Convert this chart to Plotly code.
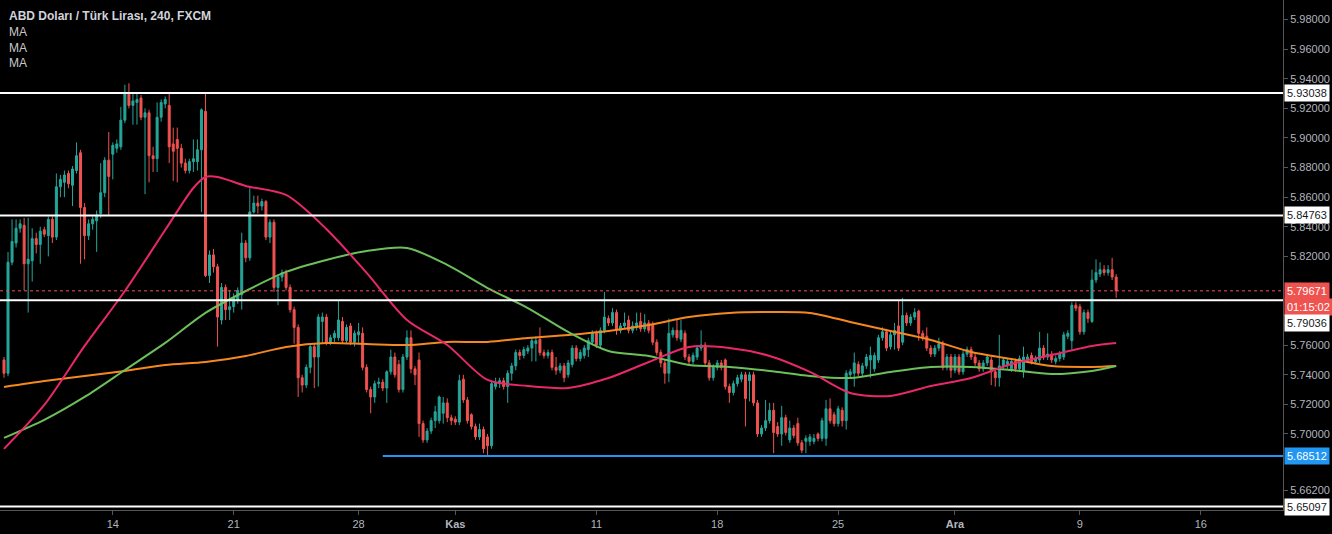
import plotly.graph_objects as go

# ---------------- data (4h candles, USD/TRY) ----------------
opens = [
 5.750, 5.741, 5.816, 5.829, 5.839, 5.841, 5.815, 5.817, 5.832, 5.828,
 5.838, 5.834, 5.845, 5.833, 5.867, 5.870, 5.876, 5.868, 5.878, 5.890,
 5.853, 5.834, 5.842, 5.844, 5.849, 5.863, 5.885, 5.889, 5.893, 5.894,
 5.912, 5.930, 5.922, 5.924, 5.927, 5.914, 5.917, 5.888, 5.886, 5.914,
 5.923, 5.922, 5.896, 5.899, 5.893, 5.883, 5.878, 5.884, 5.884, 5.892,
 5.918, 5.807, 5.821, 5.813, 5.777, 5.799, 5.784, 5.786, 5.790, 5.794,
 5.829, 5.819, 5.850, 5.856, 5.854, 5.857, 5.833, 5.843, 5.799, 5.806,
 5.809, 5.799, 5.784, 5.772, 5.738, 5.733, 5.745, 5.759, 5.752, 5.776,
 5.779, 5.762, 5.765, 5.765, 5.776, 5.763, 5.773, 5.762, 5.767, 5.768,
 5.745, 5.730, 5.725, 5.734, 5.735, 5.731, 5.742, 5.752, 5.747, 5.730,
 5.752, 5.765, 5.744, 5.750, 5.707, 5.696, 5.702, 5.709, 5.709, 5.714,
 5.721, 5.711, 5.710, 5.708, 5.737, 5.723, 5.713, 5.705, 5.698, 5.703,
 5.698, 5.692, 5.732, 5.734, 5.736, 5.732, 5.741, 5.746, 5.755, 5.753,
 5.756, 5.758, 5.761, 5.764, 5.755, 5.753, 5.755, 5.745, 5.743, 5.746,
 5.740, 5.747, 5.758, 5.751, 5.753, 5.757, 5.762, 5.768, 5.760, 5.770,
 5.778, 5.775, 5.782, 5.770, 5.773, 5.777, 5.770, 5.772, 5.776, 5.771,
 5.775, 5.774, 5.762, 5.755, 5.748, 5.741, 5.767, 5.770, 5.764, 5.768,
 5.752, 5.749, 5.752, 5.758, 5.760, 5.748, 5.738, 5.745, 5.748, 5.750,
 5.732, 5.728, 5.734, 5.737, 5.740, 5.736, 5.740, 5.721, 5.700, 5.704,
 5.709, 5.716, 5.705, 5.700, 5.711, 5.696, 5.704, 5.707, 5.694, 5.695,
 5.695, 5.695, 5.700, 5.697, 5.697, 5.717, 5.713, 5.707, 5.716, 5.709,
 5.740, 5.741, 5.747, 5.741, 5.746, 5.750, 5.744, 5.750, 5.765, 5.769,
 5.759, 5.767, 5.773, 5.762, 5.780, 5.775, 5.779, 5.783, 5.768, 5.766,
 5.758, 5.754, 5.758, 5.761, 5.745, 5.752, 5.743, 5.752, 5.742, 5.754,
 5.757, 5.752, 5.748, 5.744, 5.748, 5.750, 5.742, 5.738, 5.746, 5.746,
 5.744, 5.749, 5.744, 5.742, 5.750, 5.753, 5.749, 5.750, 5.758, 5.752,
 5.754, 5.749, 5.751, 5.752, 5.766, 5.763, 5.787, 5.786, 5.769, 5.782,
 5.776, 5.804, 5.808, 5.811, 5.809, 5.811, 5.806,
]
highs = [
 5.752, 5.823, 5.845, 5.845, 5.845, 5.846, 5.846, 5.839, 5.836, 5.840,
 5.840, 5.847, 5.847, 5.876, 5.875, 5.878, 5.878, 5.881, 5.897, 5.892,
 5.856, 5.845, 5.847, 5.851, 5.883, 5.887, 5.904, 5.897, 5.899, 5.921,
 5.936, 5.937, 5.930, 5.930, 5.929, 5.920, 5.919, 5.894, 5.924, 5.926,
 5.928, 5.931, 5.907, 5.907, 5.896, 5.886, 5.886, 5.899, 5.899, 5.920,
 5.930, 5.824, 5.825, 5.815, 5.802, 5.801, 5.797, 5.795, 5.799, 5.836,
 5.831, 5.866, 5.861, 5.861, 5.859, 5.858, 5.845, 5.845, 5.808, 5.811,
 5.811, 5.801, 5.786, 5.774, 5.740, 5.747, 5.761, 5.761, 5.781, 5.782,
 5.781, 5.767, 5.770, 5.790, 5.779, 5.774, 5.775, 5.770, 5.775, 5.772,
 5.747, 5.732, 5.736, 5.738, 5.737, 5.743, 5.757, 5.755, 5.750, 5.754,
 5.770, 5.770, 5.746, 5.755, 5.709, 5.704, 5.711, 5.719, 5.726, 5.725,
 5.724, 5.713, 5.712, 5.740, 5.740, 5.725, 5.714, 5.707, 5.707, 5.705,
 5.700, 5.736, 5.738, 5.738, 5.738, 5.743, 5.748, 5.757, 5.757, 5.759,
 5.760, 5.765, 5.766, 5.772, 5.757, 5.757, 5.757, 5.752, 5.748, 5.748,
 5.750, 5.760, 5.760, 5.757, 5.760, 5.765, 5.770, 5.770, 5.772, 5.796,
 5.780, 5.785, 5.784, 5.775, 5.782, 5.780, 5.776, 5.782, 5.782, 5.781,
 5.777, 5.776, 5.764, 5.757, 5.750, 5.778, 5.772, 5.777, 5.777, 5.770,
 5.754, 5.755, 5.760, 5.770, 5.762, 5.750, 5.747, 5.750, 5.750, 5.751,
 5.734, 5.736, 5.740, 5.742, 5.742, 5.742, 5.742, 5.723, 5.706, 5.723,
 5.721, 5.721, 5.708, 5.719, 5.713, 5.709, 5.706, 5.711, 5.696, 5.699,
 5.700, 5.700, 5.701, 5.711, 5.723, 5.724, 5.715, 5.719, 5.718, 5.743,
 5.744, 5.755, 5.749, 5.748, 5.754, 5.759, 5.755, 5.767, 5.772, 5.771,
 5.769, 5.775, 5.790, 5.792, 5.782, 5.781, 5.785, 5.784, 5.770, 5.772,
 5.760, 5.760, 5.765, 5.763, 5.754, 5.754, 5.754, 5.754, 5.756, 5.759,
 5.759, 5.754, 5.750, 5.750, 5.754, 5.752, 5.744, 5.767, 5.752, 5.751,
 5.751, 5.751, 5.753, 5.759, 5.754, 5.755, 5.753, 5.769, 5.760, 5.768,
 5.756, 5.753, 5.756, 5.769, 5.770, 5.789, 5.789, 5.788, 5.784, 5.784,
 5.811, 5.818, 5.816, 5.814, 5.814, 5.819, 5.808,
]
lows = [
 5.738, 5.739, 5.814, 5.826, 5.836, 5.797, 5.782, 5.803, 5.822, 5.815,
 5.833, 5.820, 5.829, 5.831, 5.860, 5.860, 5.866, 5.854, 5.876, 5.815,
 5.818, 5.831, 5.838, 5.823, 5.846, 5.860, 5.848, 5.872, 5.890, 5.892,
 5.910, 5.920, 5.909, 5.909, 5.912, 5.862, 5.870, 5.877, 5.877, 5.911,
 5.920, 5.883, 5.871, 5.870, 5.880, 5.876, 5.876, 5.877, 5.878, 5.850,
 5.806, 5.802, 5.809, 5.759, 5.774, 5.777, 5.777, 5.782, 5.788, 5.784,
 5.816, 5.817, 5.849, 5.849, 5.851, 5.831, 5.829, 5.796, 5.787, 5.803,
 5.797, 5.782, 5.761, 5.725, 5.728, 5.731, 5.741, 5.731, 5.732, 5.761,
 5.760, 5.760, 5.762, 5.763, 5.761, 5.761, 5.760, 5.759, 5.761, 5.743,
 5.728, 5.714, 5.721, 5.731, 5.729, 5.721, 5.740, 5.738, 5.728, 5.728,
 5.750, 5.741, 5.733, 5.698, 5.694, 5.694, 5.700, 5.704, 5.707, 5.707,
 5.708, 5.706, 5.706, 5.706, 5.721, 5.707, 5.703, 5.696, 5.696, 5.687,
 5.6855, 5.690, 5.730, 5.731, 5.730, 5.721, 5.736, 5.743, 5.750, 5.751,
 5.754, 5.749, 5.749, 5.753, 5.751, 5.751, 5.743, 5.740, 5.741, 5.735,
 5.738, 5.745, 5.749, 5.749, 5.751, 5.752, 5.760, 5.758, 5.758, 5.768,
 5.773, 5.773, 5.767, 5.768, 5.771, 5.768, 5.768, 5.770, 5.769, 5.769,
 5.768, 5.760, 5.753, 5.745, 5.734, 5.735, 5.765, 5.763, 5.762, 5.750,
 5.747, 5.747, 5.750, 5.756, 5.746, 5.736, 5.736, 5.743, 5.743, 5.730,
 5.721, 5.726, 5.732, 5.735, 5.705, 5.722, 5.719, 5.698, 5.698, 5.702,
 5.707, 5.687, 5.698, 5.692, 5.699, 5.694, 5.697, 5.692, 5.687, 5.687,
 5.692, 5.693, 5.695, 5.695, 5.692, 5.707, 5.705, 5.705, 5.705, 5.703,
 5.738, 5.732, 5.739, 5.739, 5.744, 5.738, 5.742, 5.748, 5.763, 5.756,
 5.757, 5.757, 5.756, 5.760, 5.773, 5.773, 5.777, 5.763, 5.763, 5.756,
 5.752, 5.752, 5.756, 5.743, 5.743, 5.738, 5.741, 5.740, 5.740, 5.752,
 5.750, 5.746, 5.742, 5.742, 5.746, 5.733, 5.732, 5.732, 5.744, 5.744,
 5.742, 5.742, 5.742, 5.738, 5.748, 5.747, 5.747, 5.748, 5.750, 5.750,
 5.748, 5.747, 5.749, 5.750, 5.764, 5.757, 5.783, 5.767, 5.767, 5.775,
 5.775, 5.802, 5.806, 5.807, 5.807, 5.804, 5.792,
]
closes = [
 5.741, 5.816, 5.830, 5.839, 5.842, 5.815, 5.818, 5.832, 5.828, 5.837,
 5.835, 5.845, 5.833, 5.867, 5.872, 5.875, 5.869, 5.879, 5.888, 5.853,
 5.834, 5.842, 5.845, 5.848, 5.863, 5.885, 5.874, 5.895, 5.896, 5.912,
 5.930, 5.922, 5.925, 5.926, 5.914, 5.917, 5.888, 5.886, 5.914, 5.924,
 5.926, 5.894, 5.891, 5.893, 5.883, 5.878, 5.884, 5.886, 5.892, 5.919,
 5.807, 5.821, 5.813, 5.779, 5.799, 5.784, 5.786, 5.792, 5.797, 5.829,
 5.819, 5.850, 5.856, 5.854, 5.857, 5.833, 5.843, 5.799, 5.806, 5.809,
 5.799, 5.784, 5.772, 5.738, 5.733, 5.745, 5.759, 5.752, 5.779, 5.779,
 5.762, 5.765, 5.768, 5.777, 5.763, 5.772, 5.762, 5.768, 5.769, 5.745,
 5.730, 5.725, 5.734, 5.735, 5.731, 5.742, 5.752, 5.740, 5.730, 5.752,
 5.765, 5.744, 5.740, 5.707, 5.696, 5.702, 5.709, 5.715, 5.725, 5.721,
 5.711, 5.709, 5.708, 5.736, 5.723, 5.709, 5.705, 5.698, 5.703, 5.690,
 5.692, 5.734, 5.735, 5.736, 5.732, 5.741, 5.746, 5.755, 5.753, 5.757,
 5.758, 5.763, 5.763, 5.755, 5.753, 5.755, 5.745, 5.743, 5.746, 5.738,
 5.748, 5.758, 5.751, 5.755, 5.758, 5.763, 5.768, 5.760, 5.770, 5.779,
 5.775, 5.782, 5.770, 5.773, 5.775, 5.770, 5.773, 5.775, 5.771, 5.775,
 5.770, 5.762, 5.755, 5.748, 5.741, 5.768, 5.770, 5.765, 5.770, 5.752,
 5.749, 5.753, 5.758, 5.760, 5.748, 5.738, 5.745, 5.748, 5.745, 5.732,
 5.728, 5.734, 5.738, 5.740, 5.724, 5.740, 5.721, 5.700, 5.704, 5.709,
 5.716, 5.701, 5.700, 5.711, 5.701, 5.704, 5.699, 5.694, 5.689, 5.697,
 5.698, 5.697, 5.697, 5.709, 5.717, 5.709, 5.707, 5.717, 5.709, 5.741,
 5.742, 5.748, 5.741, 5.746, 5.752, 5.753, 5.753, 5.765, 5.769, 5.758,
 5.767, 5.770, 5.758, 5.780, 5.775, 5.779, 5.782, 5.768, 5.765, 5.758,
 5.754, 5.758, 5.761, 5.745, 5.752, 5.743, 5.752, 5.742, 5.754, 5.757,
 5.752, 5.748, 5.744, 5.748, 5.752, 5.742, 5.738, 5.746, 5.750, 5.749,
 5.749, 5.744, 5.751, 5.752, 5.752, 5.749, 5.751, 5.758, 5.752, 5.754,
 5.750, 5.751, 5.754, 5.767, 5.768, 5.787, 5.785, 5.769, 5.782, 5.778,
 5.804, 5.809, 5.811, 5.809, 5.811, 5.806, 5.79671,
]
candle_idx = list(range(len(closes)))

# moving averages sampled from the chart
ma_idx = list(range(0, 271, 10)) + [276]
fast_idx = [0, 10, 20, 30, 40, 47, 50, 53, 60, 70, 80, 90, 100, 110, 120, 130, 140,
            150, 160, 170, 180, 190, 200, 210, 220, 230, 240, 250, 260, 270, 276]
ma_fast = [5.6899, 5.7196, 5.7595, 5.7966, 5.8378, 5.8662, 5.8736, 5.8736, 5.8676, 5.8615,
           5.8385, 5.8088, 5.7770, 5.7601, 5.7365, 5.7324, 5.7311, 5.7378, 5.7486, 5.7588,
           5.7581, 5.7527, 5.7419, 5.7277, 5.7257, 5.7324, 5.7378, 5.7473, 5.7534, 5.7595,
           5.7615]
ma_mid = [5.6973, 5.7095, 5.7250, 5.7432, 5.7615, 5.7818, 5.7966, 5.8095, 5.8176, 5.8236,
          5.8257, 5.8142, 5.7986, 5.7851, 5.7689, 5.7561, 5.7527, 5.7466, 5.7453, 5.7426,
          5.7392, 5.7378, 5.7419, 5.7453, 5.7453, 5.7432, 5.7405, 5.7426, 5.7459]
ma_slow = [5.7318, 5.7358, 5.7392, 5.7426, 5.7466, 5.7486, 5.7527, 5.7588, 5.7615, 5.7608,
           5.7601, 5.7622, 5.7622, 5.7649, 5.7669, 5.7696, 5.7736, 5.7790, 5.7818, 5.7824,
           5.7818, 5.7757, 5.7696, 5.7635, 5.7554, 5.7507, 5.7459, 5.7453, 5.7459]

date_tick_idx = [27, 57, 88, 112, 147, 177, 207, 236, 267, 297]
date_tick_text = ["14", "21", "28", "<b>Kas</b>", "11", "18", "25", "<b>Ara</b>", "9", "16"]

price_ticks = [5.98, 5.96, 5.94, 5.92, 5.90, 5.88, 5.86, 5.84, 5.82,
               5.76, 5.74, 5.72, 5.70, 5.662]

levels_white = [5.93038, 5.84763, 5.79036, 5.65097]
support_level = 5.68512
support_start = 94
last_price = 5.79671
countdown = "01:15:02"

title_text = "ABD Doları / Türk Lirası, 240, FXCM"
ma_labels = ["MA", "MA", "MA"]

# ---------------- style ----------------
UP = "#26a69a"
DOWN = "#ef5350"
BG = "#000000"
AXIS = "#555555"
TXT = "#b2b5be"
FONT = "Liberation Sans, Arial, sans-serif"
X_RANGE = [-0.99, 317.4]
Y_RANGE = [5.64862, 5.99322]

fig = go.Figure()

fig.add_trace(go.Candlestick(
    x=candle_idx, open=opens, high=highs, low=lows, close=closes,
    increasing=dict(line=dict(color=UP, width=1), fillcolor=UP),
    decreasing=dict(line=dict(color=DOWN, width=1), fillcolor=DOWN),
    whiskerwidth=0, showlegend=False, hoverinfo="skip",
))

for xs, vals, col in [(ma_idx, ma_slow, "#f5891f"), (ma_idx, ma_mid, "#6cbf5a"),
                      (fast_idx, ma_fast, "#e8286a")]:
    fig.add_trace(go.Scatter(
        x=xs, y=vals, mode="lines",
        line=dict(color=col, width=2, shape="spline", smoothing=0.8),
        showlegend=False, hoverinfo="skip",
    ))

shapes = []
for lv in levels_white:
    shapes.append(dict(type="line", xref="paper", x0=0, x1=1, yref="y", y0=lv, y1=lv,
                       line=dict(color="#ffffff", width=2), layer="above"))
shapes.append(dict(type="line", xref="x", x0=support_start, x1=X_RANGE[1], yref="y",
                   y0=support_level, y1=support_level,
                   line=dict(color="#2196f3", width=2), layer="above"))
shapes.append(dict(type="line", xref="paper", x0=0, x1=1, yref="y",
                   y0=last_price, y1=last_price,
                   line=dict(color=DOWN, width=1, dash="dot"), layer="above"))

annotations = []
def price_box(y, text, bg, fg, yshift=0):
    annotations.append(dict(
        xref="paper", x=1, xanchor="left", xshift=1, yref="y", y=y, yanchor="middle",
        yshift=yshift, text=text, showarrow=False, bgcolor=bg,
        font=dict(family=FONT, size=11, color=fg), borderpad=2,
    ))

price_box(levels_white[0], f"{levels_white[0]:.5f}", "#ffffff", "#131722")
price_box(levels_white[1], f"{levels_white[1]:.5f}", "#ffffff", "#131722")
price_box(last_price, f"{last_price:.5f}", DOWN, "#ffffff")
price_box(last_price, countdown, DOWN, "#ffffff", yshift=-16)
price_box(levels_white[2], f"{levels_white[2]:.5f}", "#ffffff", "#131722", yshift=-23)
price_box(support_level, f"{support_level:.5f}", "#2196f3", "#ffffff")
price_box(levels_white[3], f"{levels_white[3]:.5f}", "#ffffff", "#131722")

annotations.append(dict(xref="paper", x=0, xanchor="left", xshift=7, yref="paper", y=1,
                        yanchor="middle", yshift=-16, text=title_text, showarrow=False,
                        font=dict(family=FONT, size=12, color="#d1d4dc", weight=600)))
for i, t in enumerate(ma_labels):
    annotations.append(dict(xref="paper", x=0, xanchor="left", xshift=7, yref="paper", y=1,
                            yanchor="middle", yshift=-32 - 15.5 * i, text=t, showarrow=False,
                            font=dict(family=FONT, size=12, color="#c8c8c8")))

fig.update_layout(
    width=1332, height=534,
    margin=dict(l=0, r=49, t=0, b=24),
    paper_bgcolor=BG, plot_bgcolor=BG,
    shapes=shapes, annotations=annotations,
    showlegend=False,
    xaxis=dict(range=X_RANGE, showgrid=False, zeroline=False,
               tickmode="array", tickvals=date_tick_idx, ticktext=date_tick_text,
               ticks="outside", ticklen=4, tickcolor=AXIS,
               showline=True, linecolor=AXIS, linewidth=1,
               tickfont=dict(family=FONT, size=11, color=TXT),
               rangeslider=dict(visible=False), fixedrange=True),
    yaxis=dict(range=Y_RANGE, side="right", showgrid=False, zeroline=False,
               tickmode="array", tickvals=price_ticks,
               ticktext=[f"{v:.5f}" for v in price_ticks],
               ticks="outside", ticklen=4, tickcolor=AXIS,
               showline=True, linecolor=AXIS, linewidth=1,
               tickfont=dict(family=FONT, size=11, color=TXT), fixedrange=True),
)

fig.write_html("out.html")
